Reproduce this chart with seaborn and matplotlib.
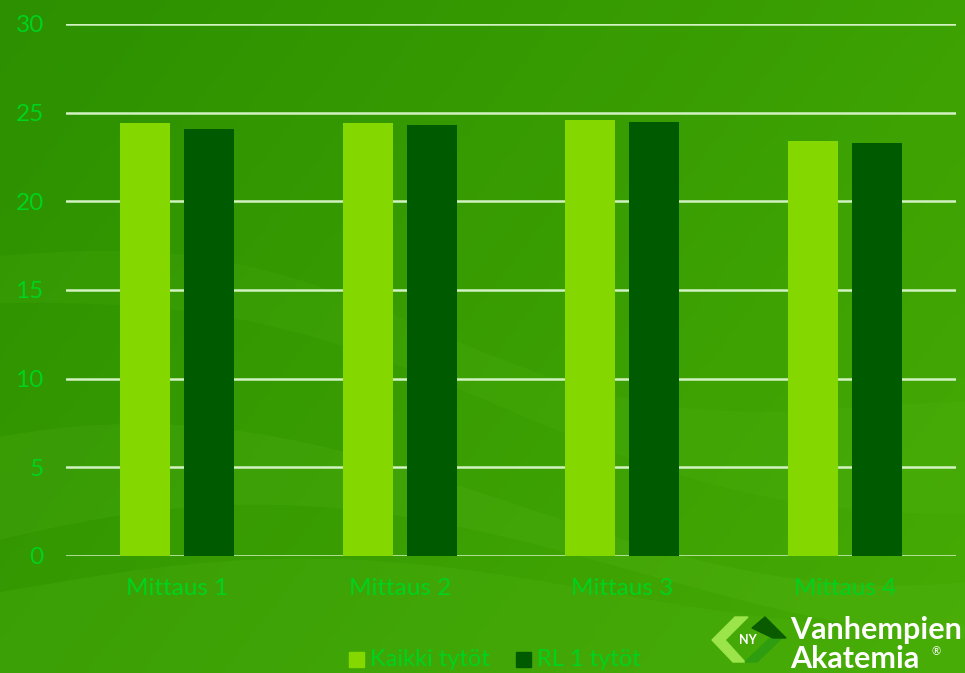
import numpy as np
import pandas as pd
import matplotlib.pyplot as plt
import seaborn as sns
from matplotlib.patches import Polygon

# datos del gráfico
categorias = ['Mittaus 1', 'Mittaus 2', 'Mittaus 3', 'Mittaus 4']
series = ['Kaikki tytöt', 'RL 1 tytöt']
kaikki = [24.4, 24.4, 24.6, 23.4]
rl1 = [24.1, 24.3, 24.5, 23.3]
yticks = [0, 5, 10, 15, 20, 25, 30]

colores = ['#84d800', '#005a00']
verde_texto = '#00d21e'

df = pd.DataFrame({
    'Mittaus': categorias * 2,
    'Sarja': [series[0]] * 4 + [series[1]] * 4,
    'Arvo': kaikki + rl1,
})

sns.set_theme(style='white')
plt.rcParams['font.family'] = ['Lato', 'DejaVu Sans']

fig = plt.figure(figsize=(9.65, 6.73), dpi=100)

# fondo con degradado verde
bg = fig.add_axes([0, 0, 1, 1], zorder=-10)
gx = np.linspace(0, 1, 300)
gy = np.linspace(0, 1, 200)
X, Y = np.meshgrid(gx, gy)
c1 = np.array([0x2c, 0x90, 0x00]) / 255
c2 = np.array([0x46, 0xab, 0x04]) / 255
t = np.clip(0.65 * X + 0.35 * Y, 0, 1)[..., None]
img = c1 * (1 - t) + c2 * t
bg.imshow(img, extent=[0, 1, 0, 1], origin='upper', aspect='auto')
# ondas más claras
xs = np.linspace(0, 1, 200)
bg.fill_between(xs, 0.62 - 0.25 * xs + 0.05 * np.sin(xs * 7), 0.55 - 0.3 * xs + 0.05 * np.sin(xs * 6),
                color='#5cbf20', alpha=0.12, lw=0)
bg.fill_between(xs, 0.25 + 0.12 * np.sin(xs * 4 + 1), 0.15 + 0.1 * np.sin(xs * 4 + 0.5),
                color='#6cc830', alpha=0.12, lw=0)
bg.fill_between(xs, 0.0, 0.12 + 0.05 * np.sin(xs * 5),
                color='#4fb512', alpha=0.25, lw=0)
bg.set_xlim(0, 1)
bg.set_ylim(0, 1)
bg.axis('off')

ax = fig.add_axes([66 / 965, 1 - 556 / 673, 890 / 965, 532 / 673])
ax.patch.set_alpha(0)
sns.barplot(data=df, x='Mittaus', y='Arvo', hue='Sarja', palette=colores,
            width=0.575, gap=0.22, saturation=1, linewidth=0, ax=ax, legend=False, zorder=3)

ax.set_ylim(0, 30)
ax.set_yticks(yticks)
ax.yaxis.grid(True, color='#d2f2c2', lw=1.8, zorder=0)
ax.set_xlabel('')
ax.set_ylabel('')
for s in ax.spines.values():
    s.set_visible(False)
ax.tick_params(axis='both', length=0, labelsize=17.5, labelcolor=verde_texto)
ax.tick_params(axis='x', pad=16)
ax.tick_params(axis='y', pad=16)

# leyenda
for i, (nombre, col) in enumerate(zip(series, colores)):
    x0 = 349 + i * 167
    fig.patches.append(plt.Rectangle((x0 / 965, 1 - 667 / 673), 15 / 965, 15 / 673,
                                     transform=fig.transFigure, color=col, figure=fig))
    fig.text((x0 + 21) / 965, 1 - 660 / 673, nombre, color=verde_texto, fontsize=17, va='center')

# logo
logo = [
    [(712, 640), (735, 617), (748, 617), (725, 640), (745, 662), (733, 662)],
    [(745, 662), (770, 638), (782, 638), (757, 662)],
    [(752, 628), (765, 617), (786, 638), (773, 638)],
]
tonos = ['#9be44a', '#2e9e10', '#0a5a00']
for pts, col in zip(logo, tonos):
    fig.patches.append(Polygon([(px / 965, 1 - py / 673) for px, py in pts], closed=True,
                               transform=fig.transFigure, color=col, figure=fig))
fig.text(748 / 965, 1 - 640 / 673, 'NY', color='white', fontsize=9, fontweight='bold',
         ha='center', va='center')
fig.text(790 / 965, 1 - 630 / 673, 'Vanhempien', color='white', fontsize=22, fontweight='bold',
         va='center')
fig.text(790 / 965, 1 - 659 / 673, 'Akatemia', color='white', fontsize=22, fontweight='bold',
         va='center')
fig.text(932 / 965, 1 - 652 / 673, '®', color='white', fontsize=8, va='center')

fig.savefig('out.png', dpi=100)
